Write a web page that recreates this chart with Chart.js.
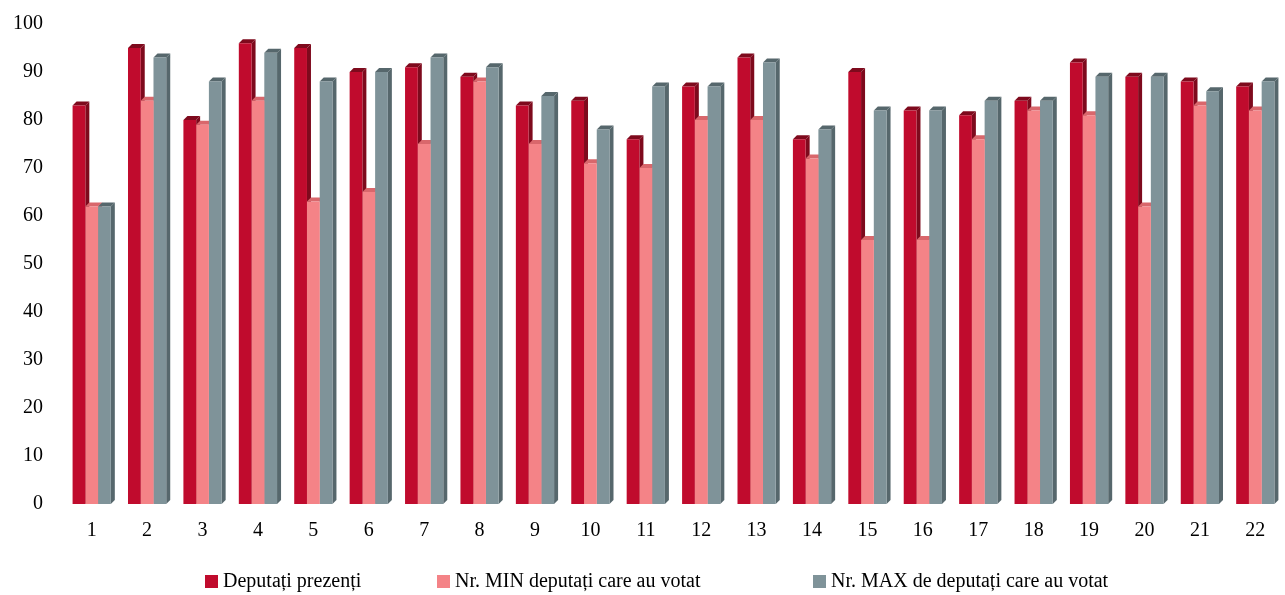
<!DOCTYPE html>
<html>
<head>
<meta charset="utf-8">
<script src="https://cdn.jsdelivr.net/npm/chart.js@4/dist/chart.umd.min.js"></script>
<style>
html,body{margin:0;padding:0;background:#fff;}
#wrap{width:1285px;height:595px;position:relative;overflow:hidden;}
#legend{position:absolute;left:0;top:568px;width:1285px;height:24px;font-family:'Liberation Serif','DejaVu Serif',serif;font-size:20px;color:#000;}
.li{position:absolute;top:0;white-space:nowrap;line-height:24px;}
.li .bx{display:inline-block;width:13px;height:13px;margin-right:5px;vertical-align:-1px;}
</style>
</head>
<body>
<div id="wrap"><canvas id="c" width="1285" height="595"></canvas><div id="legend"></div></div>
<script>
const categories = ["1","2","3","4","5","6","7","8","9","10","11","12","13","14","15","16","17","18","19","20","21","22"];
const deputatiPrezenti = [83,95,80,96,95,90,91,89,83,84,76,87,93,76,90,82,81,84,92,89,88,87];
const nrMinVotat      = [62,84,79,84,63,65,75,88,75,71,70,80,80,72,55,55,76,82,81,62,83,82];
const nrMaxVotat      = [62,93,88,94,88,90,93,91,85,78,87,87,92,78,82,82,84,84,89,89,86,88];
const seriesNames = ["Deputați prezenți","Nr. MIN deputați care au votat","Nr. MAX de deputați care au votat"];
const yTicks = [0,10,20,30,40,50,60,70,80,90,100];

const frontColors = ["#C00B2D","#F48387","#7F9399"];
const sideColors  = ["#7E0A1D","#D9676C","#56676C"];

const depth3d = {
  id: 'depth3d',
  beforeDatasetsDraw(chart) {
    const ctx = chart.ctx;
    const d = 4;
    ctx.save();
    chart.data.datasets.forEach((ds, di) => {
      const meta = chart.getDatasetMeta(di);
      meta.data.forEach(el => {
        const w = el.width, x = el.x, y = el.y, b = el.base;
        const r = x + w/2, l = x - w/2;
        ctx.fillStyle = sideColors[di];
        ctx.beginPath();
        ctx.moveTo(r, y); ctx.lineTo(r + d, y - d); ctx.lineTo(r + d, b - d); ctx.lineTo(r, b);
        ctx.closePath(); ctx.fill();
        ctx.beginPath();
        ctx.moveTo(l, y); ctx.lineTo(l + d, y - d); ctx.lineTo(r + d, y - d); ctx.lineTo(r, y);
        ctx.closePath(); ctx.fill();
      });
    });
    ctx.restore();
  }
};

const FONT = "'Liberation Serif', 'DejaVu Serif', serif";

const chart = new Chart(document.getElementById('c'), {
  type: 'bar',
  data: {
    labels: categories,
    datasets: [
      { label: seriesNames[0], data: deputatiPrezenti, backgroundColor: frontColors[0] },
      { label: seriesNames[1], data: nrMinVotat, backgroundColor: frontColors[1] },
      { label: seriesNames[2], data: nrMaxVotat, backgroundColor: frontColors[2] }
    ]
  },
  options: {
    responsive: false,
    animation: false,
    layout: { padding: { left: 0, right: 2, top: 24, bottom: 37 } },
    datasets: { bar: { categoryPercentage: 0.69, barPercentage: 1.0 } },
    scales: {
      x: {
        grid: { display: false, drawTicks: false },
        border: { display: false },
        ticks: { color: '#000', font: { family: FONT, size: 20 }, padding: 15, maxRotation: 0 }
      },
      y: {
        min: 0, max: 100,
        grid: { display: false, drawTicks: false },
        border: { display: false },
        afterFit: (axis) => { axis.width = 64; axis.paddingTop = 0; axis.paddingBottom = 0; },
        afterBuildTicks: (axis) => { axis.ticks = yTicks.map(v => ({ value: v })); },
        ticks: { color: '#000', font: { family: FONT, size: 20 }, padding: 21 }
      }
    },
    plugins: {
      legend: { display: false },
      tooltip: { enabled: false }
    }
  },
  plugins: [depth3d]
});

// legend (HTML text) built from the dataset names/colours
const legendX = [205, 437, 813];
const lg = document.getElementById('legend');
chart.data.datasets.forEach((ds, i) => {
  const item = document.createElement('div');
  item.className = 'li';
  item.style.left = legendX[i] + 'px';
  const bx = document.createElement('span');
  bx.className = 'bx';
  bx.style.background = ds.backgroundColor;
  item.appendChild(bx);
  item.appendChild(document.createTextNode(ds.label));
  lg.appendChild(item);
});
</script>
</body>
</html>
